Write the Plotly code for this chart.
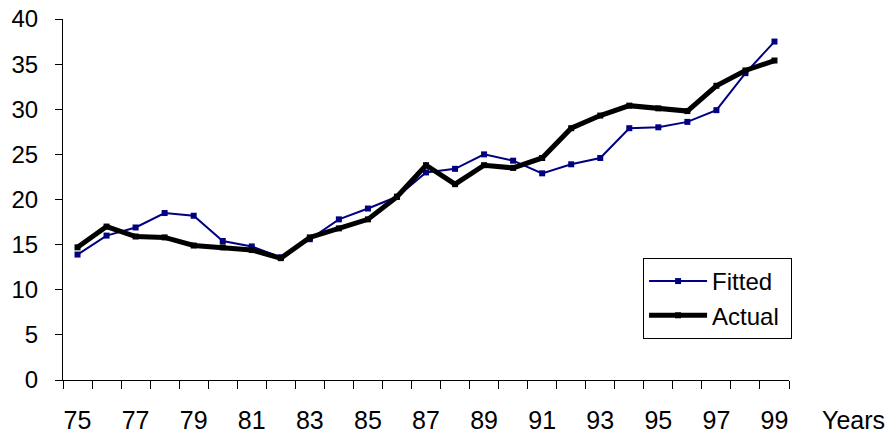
import plotly.graph_objects as go

years = list(range(75, 100))
fitted = [13.9, 16.0, 16.9, 18.5, 18.2, 15.4, 14.8, 13.6, 15.6, 17.8, 19.0, 20.3,
          23.0, 23.4, 25.0, 24.3, 22.9, 23.9, 24.6, 27.9, 28.0, 28.6, 29.9, 34.0, 37.5]
actual = [14.7, 17.0, 15.9, 15.8, 14.9, 14.7, 14.4, 13.5, 15.8, 16.8, 17.8, 20.3,
          23.8, 21.7, 23.8, 23.5, 24.6, 27.9, 29.3, 30.4, 30.1, 29.8, 32.6, 34.3, 35.4]
x_tick_vals = list(range(75, 100, 2))
x_tick_text = [str(v) for v in x_tick_vals]
y_tick_vals = list(range(0, 45, 5))

FONT = "Liberation Sans, Arial, sans-serif"

fig = go.Figure()
fig.add_trace(go.Scatter(
    x=years, y=fitted, name="Fitted\u00a0", mode="lines+markers", legendgroup="f",
    line=dict(color="#000080", width=2),
    marker=dict(symbol="square", size=6, color="#000080"),
))
fig.add_trace(go.Scatter(
    x=years, y=actual, name="Actual\u00a0", mode="lines+markers", legendgroup="a",
    line=dict(color="#000000", width=5),
    marker=dict(symbol="square", size=6, color="#000000"),
))

fig.update_layout(
    width=896, height=443,
    margin=dict(l=63, r=107, t=19, b=63, autoexpand=False),
    paper_bgcolor="white", plot_bgcolor="white",
    font=dict(family=FONT, size=24, color="black"),
    showlegend=True,
    legend=dict(
        x=0.799, y=0.338, xanchor="left", yanchor="top",
        bordercolor="black", borderwidth=1, bgcolor="white",
        font=dict(size=24), tracegroupgap=0, itemwidth=58,
    ),
    annotations=[dict(
        text="Years", xref="paper", yref="paper", x=1.043, y=-0.111,
        xanchor="left", yanchor="middle", showarrow=False,
        font=dict(family=FONT, size=25, color="black"),
    )],
)
fig.update_xaxes(
    range=[74.5, 99.5], showgrid=False, zeroline=False, automargin=False,
    showline=True, linecolor="black", linewidth=1, ticklabeloverflow="allow",
    tickmode="array", tickvals=x_tick_vals, ticktext=x_tick_text,
    ticks="", ticklabelstandoff=18, tickfont=dict(size=25),
    minor=dict(ticks="outside", tick0=74.5, dtick=1, ticklen=8,
               tickcolor="black", tickwidth=1, showgrid=False),
)
fig.update_yaxes(
    range=[0, 40], showgrid=False, zeroline=False, automargin=False,
    showline=True, linecolor="black", linewidth=1, ticklabeloverflow="allow",
    tickmode="array", tickvals=y_tick_vals,
    ticks="outside", ticklen=7, tickcolor="black",
    ticklabelstandoff=12, tickfont=dict(size=24),
)

fig.write_html(
    "out.html",
    config={"displayModeBar": False},
    post_script="document.body.style.margin='0';document.body.style.overflow='hidden';",
)
